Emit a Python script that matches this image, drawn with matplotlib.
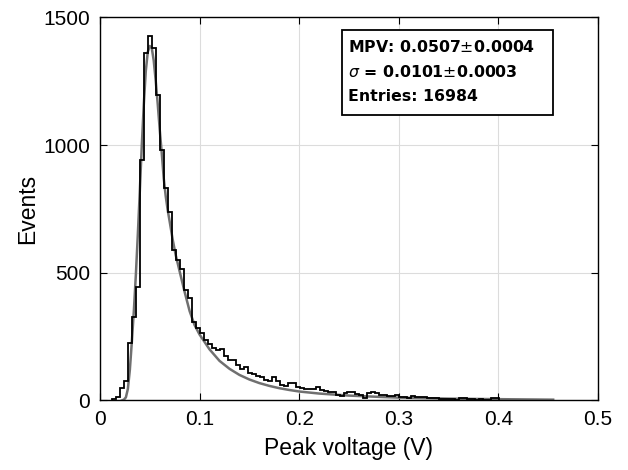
import numpy as np
import matplotlib
matplotlib.use('Agg')
import matplotlib.pyplot as plt
from matplotlib.patches import Rectangle

# histogram counts, bins of 0.004 V starting at 0.0125 V
bin_start = 0.0125
bin_width = 0.004
counts = [5, 13, 47, 78, 223, 327, 444,
          941, 1360, 1428, 1382, 1196, 980,
          831, 738, 588, 549, 514, 431, 400, 307, 282,
          265, 235, 222, 204, 196, 200, 175, 160, 160, 140,
          125, 129, 106, 104, 96, 91, 80, 78, 91, 76,
          62, 58, 70, 70, 52, 50, 46, 43, 43, 52,
          40, 38, 33, 32, 22, 18, 30, 34, 33, 25,
          23, 10, 28, 33, 30, 20, 20, 19, 18, 20,
          14, 12, 8, 16, 15, 14, 12, 10, 9, 8,
          6, 5, 7, 4, 3, 10, 9, 4, 5, 3, 4, 3, 2, 8, 8]

# landau fit curve
fit_v = [0.022, 0.024, 0.026, 0.028, 0.030, 0.032, 0.034, 0.036, 0.038, 0.040,
         0.042, 0.044, 0.046, 0.048, 0.050, 0.052, 0.054, 0.056, 0.058, 0.060,
         0.062, 0.064, 0.066, 0.068, 0.070, 0.073, 0.076, 0.080, 0.085, 0.090,
         0.095, 0.100, 0.110, 0.120, 0.130, 0.140, 0.150, 0.160, 0.170, 0.180,
         0.190, 0.200, 0.220, 0.250, 0.280, 0.300, 0.350, 0.400, 0.455]
fit_n = [0, 3, 12, 45, 120, 230, 350, 490, 650, 820,
         1000, 1160, 1290, 1365, 1388, 1380, 1330, 1250, 1160, 1060,
         970, 870, 800, 745, 700, 630, 570, 505, 425, 350,
         295, 258, 200, 155, 124, 100, 82, 68, 57, 48,
         41, 35, 27, 19, 14, 11, 7, 5, 3]

stats_lines = [r'MPV: 0.0507$\pm$0.0004',
               r'$\sigma$ = 0.0101$\pm$0.0003',
               'Entries: 16984']

plt.rcParams['font.family'] = ['Liberation Sans', 'DejaVu Sans']

fig = plt.figure(figsize=(6.28, 4.70), dpi=100)
ax = fig.add_axes([0.1592, 0.148, 0.793, 0.815])

edges = bin_start + bin_width * np.arange(len(counts) + 1)
ax.stairs(counts, edges, baseline=0, color='black', linewidth=1.3, zorder=3)
ax.plot(fit_v, fit_n, color='#707070', linewidth=1.8, zorder=2)

ax.set_xlim(0, 0.5)
ax.set_ylim(0, 1500)
ax.set_xticks([0, 0.1, 0.2, 0.3, 0.4, 0.5])
ax.set_xticklabels(['0', '0.1', '0.2', '0.3', '0.4', '0.5'])
ax.set_yticks([0, 500, 1000, 1500])
ax.grid(True, color='#dcdcdc', linewidth=0.8)
ax.set_axisbelow(True)
ax.tick_params(direction='in', top=True, right=True, length=5, width=0.8,
               labelsize=15, pad=7)
for s in ax.spines.values():
    s.set_linewidth(1.0)

ax.set_xlabel('Peak voltage (V)', fontsize=16.5, labelpad=6)
ax.set_ylabel('Events', fontsize=16.5, labelpad=3)

# stats box
ax.add_patch(Rectangle((0.485, 0.745), 0.424, 0.222, transform=ax.transAxes,
                       facecolor='white', edgecolor='black', linewidth=1.3,
                       zorder=5, clip_on=False))
for i, line in enumerate(stats_lines):
    ax.text(0.498, 0.924 - i * 0.0655, line, transform=ax.transAxes,
            fontsize=11.3, fontweight='bold', family='DejaVu Sans',
            va='center', ha='left', zorder=6)

fig.savefig('out.png', dpi=100)
